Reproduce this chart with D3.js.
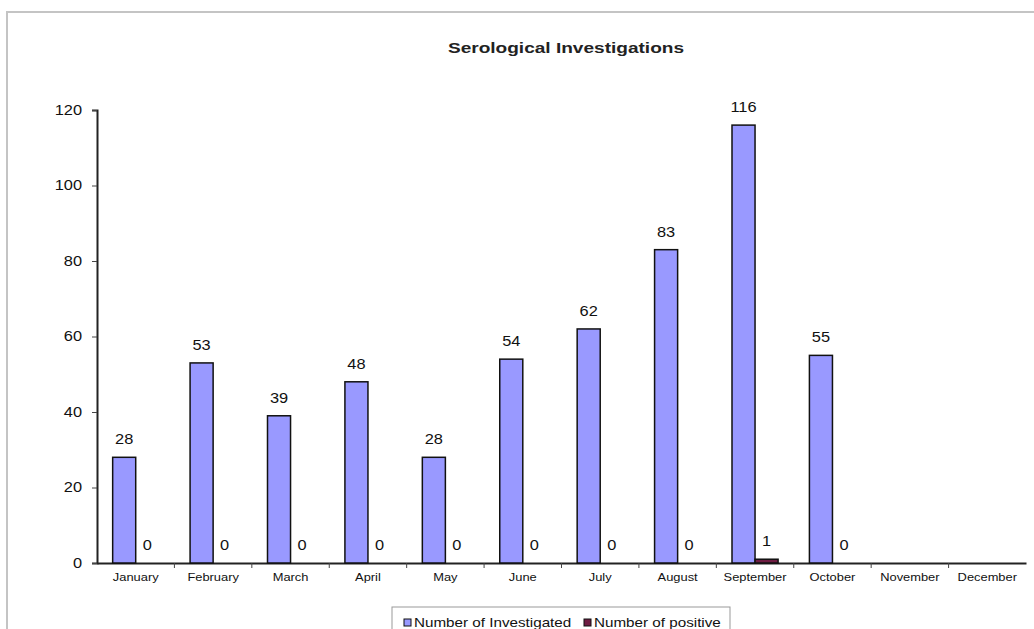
<!DOCTYPE html>
<html>
<head>
<meta charset="utf-8">
<script src="https://cdn.jsdelivr.net/npm/d3@7"></script>
<style>
    body { margin: 0; background: #fff; }
    text { font-family: Arial, "Liberation Sans", sans-serif; }
</style>
</head>
<body>
<script>
// DATA
var months = ['January', 'February', 'March', 'April', 'May', 'June', 'July',
    'August', 'September', 'October', 'November', 'December'];
var investigated = [28, 53, 39, 48, 28, 54, 62, 83, 116, 55, null, null];
var positive = [0, 0, 0, 0, 0, 0, 0, 0, 1, 0, null, null];
var seriesNames = ['Number of Investigated', 'Number of positive'];
var seriesColors = ['#9999FF', '#6e1c42'];
var yTicks = [0, 20, 40, 60, 80, 100, 120];

var width = 1034,
    height = 629,
    margin = {top: 110, left: 97, right: 8, bottom: 66};

var svg = d3.select('body').append('svg')
    .attr('width', width)
    .attr('height', height);

// outer frame
svg.append('path')
    .attr('d', 'M7,' + height + 'V12H' + width)
    .attr('fill', 'none')
    .attr('stroke', '#c4c4c4')
    .attr('stroke-width', 2);

svg.append('text')
    .attr('class', 'title')
    .attr('x', 566)
    .attr('y', 53)
    .attr('text-anchor', 'middle')
    .attr('font-size', 15)
    .attr('font-weight', 'bold')
    .attr('fill', '#222')
    .text('Serological Investigations');

var x = d3.scaleBand()
    .domain(months)
    .range([margin.left, width - margin.right])
    .paddingInner(0)
    .paddingOuter(0);

var xInner = d3.scaleBand()
    .domain([0, 1])
    .range([0, x.bandwidth()])
    .paddingOuter(0.68)
    .paddingInner(0);

var y = d3.scaleLinear()
    .domain([0, 120])
    .range([height - margin.bottom, margin.top]);

// y axis
var yAxis = svg.append('g')
    .attr('transform', 'translate(' + margin.left + ',0)')
    .call(d3.axisLeft(y).tickValues(yTicks).tickSize(5).tickPadding(10));
yAxis.select('.domain').attr('stroke', '#222').attr('stroke-width', 2);
yAxis.selectAll('.tick line').attr('stroke', '#444');
yAxis.selectAll('.tick text').attr('font-size', 14).attr('fill', '#111')
    .style('font-family', 'Arial, "Liberation Sans", sans-serif');

// x axis
var xAxis = svg.append('g')
    .attr('transform', 'translate(0,' + y(0) + ')')
    .call(d3.axisBottom(x).tickSize(0).tickPadding(10));
xAxis.select('.domain').attr('stroke', '#222').attr('stroke-width', 2);
xAxis.selectAll('.tick text').attr('font-size', 11).attr('fill', '#111')
    .style('font-family', 'Arial, "Liberation Sans", sans-serif');

// category separator ticks
svg.append('g').selectAll('line')
    .data(months.slice(1))
    .enter().append('line')
    .attr('x1', function (d) { return x(d); })
    .attr('x2', function (d) { return x(d); })
    .attr('y1', y(0))
    .attr('y2', y(0) + 5)
    .attr('stroke', '#444');

var series = [investigated, positive];

series.forEach(function (values, s) {
    var data = months.map(function (m, i) { return {month: m, value: values[i]}; })
        .filter(function (d) { return d.value !== null; });

    var g = svg.append('g');

    g.selectAll('rect')
        .data(data.filter(function (d) { return d.value > 0; }))
        .enter().append('rect')
        .attr('x', function (d) { return x(d.month) + xInner(s); })
        .attr('y', function (d) { return y(d.value); })
        .attr('width', xInner.bandwidth())
        .attr('height', function (d) { return y(0) - y(d.value); })
        .attr('fill', seriesColors[s])
        .attr('stroke', '#111')
        .attr('stroke-width', 1.5);

    g.selectAll('text')
        .data(data)
        .enter().append('text')
        .attr('x', function (d) { return x(d.month) + xInner(s) + xInner.bandwidth() / 2; })
        .attr('y', function (d) { return y(d.value) - 13; })
        .attr('text-anchor', 'middle')
        .attr('font-size', 14)
        .attr('fill', '#111')
        .text(function (d) { return d.value; });
});

// legend
var legend = svg.append('g').attr('transform', 'translate(392,607)');
legend.append('rect')
    .attr('width', 338)
    .attr('height', 30)
    .attr('fill', '#fff')
    .attr('stroke', '#999');

var legendX = [12, 192];
seriesNames.forEach(function (name, i) {
    legend.append('rect')
        .attr('x', legendX[i])
        .attr('y', 12)
        .attr('width', 7)
        .attr('height', 7)
        .attr('fill', seriesColors[i])
        .attr('stroke', '#111');
    legend.append('text')
        .attr('x', legendX[i] + 10)
        .attr('y', 20)
        .attr('font-size', 13)
        .attr('fill', '#111')
        .text(name);
});

// the source render is stretched sideways, widen every text to match
svg.selectAll('text').each(function () {
    var el = d3.select(this),
        k = el.classed('title') ? 1.27 : 1.17;
    el.attr('textLength', this.getComputedTextLength() * k)
        .attr('lengthAdjust', 'spacingAndGlyphs');
});
</script>
</body>
</html>
